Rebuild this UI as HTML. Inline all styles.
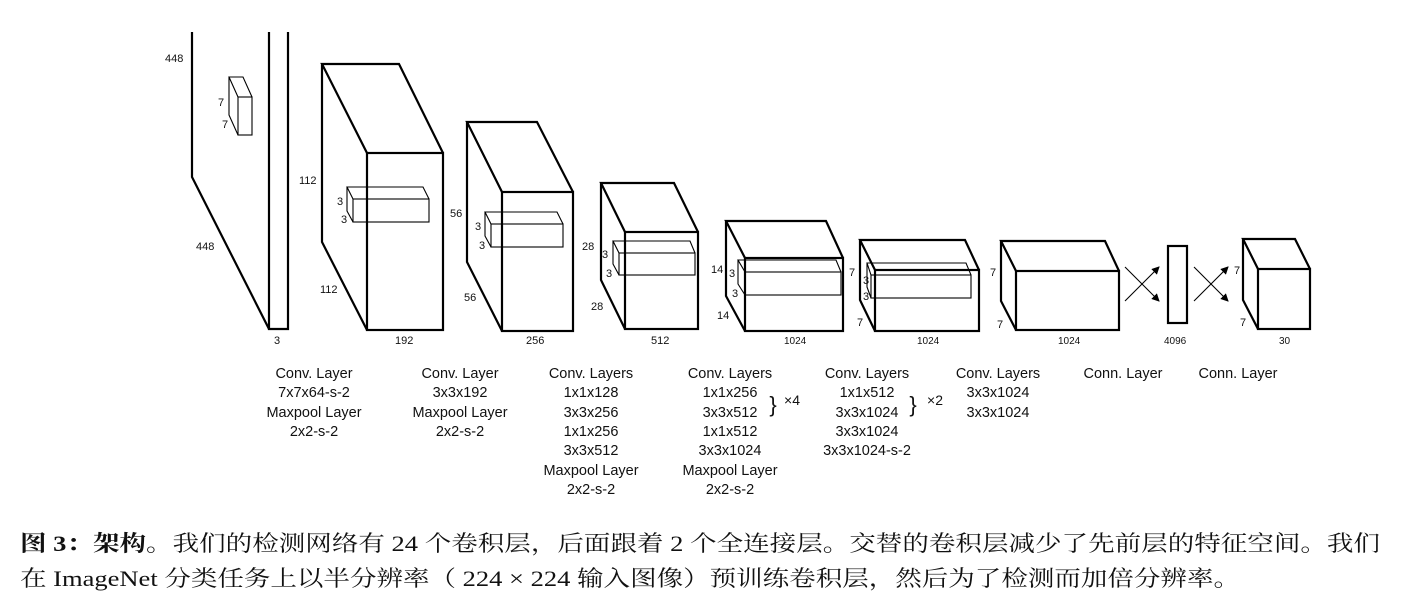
<!DOCTYPE html>
<html><head><meta charset="utf-8"><style>
html,body{margin:0;padding:0;background:#fff;}
svg{display:block;}
.t{font-family:"Liberation Sans",sans-serif;font-size:11px;fill:#111;}
.l{font-family:"Liberation Sans",sans-serif;font-size:14.5px;fill:#111;text-anchor:middle;}
.c{font-family:"Liberation Serif","Noto Serif CJK SC",serif;font-size:22px;fill:#111;}
</style></head><body>
<svg width="1420" height="612" viewBox="0 0 1420 612" xmlns="http://www.w3.org/2000/svg">
<defs><marker id="ah" markerWidth="8" markerHeight="8" refX="7" refY="4" orient="auto" markerUnits="userSpaceOnUse"><path d="M0,0 L8,4 L0,8 z" fill="#000"/></marker></defs>
<g fill="none" stroke="#000" stroke-width="2.2" stroke-linejoin="miter">
<path d="M192,32 L192,177 L269,329"/>
<path d="M269,32 L269,329 L288,329 L288,32"/>
<path d="M367,153 L322,64 L399,64 L443,153 M322,64 L322,242 L367,330"/>
<rect x="367" y="153" width="76" height="177"/>
<path d="M502,192 L467,122 L537,122 L573,192 M467,122 L467,262 L502,331"/>
<rect x="502" y="192" width="71" height="139"/>
<path d="M625,232 L601,183 L674,183 L698,232 M601,183 L601,280 L625,329"/>
<rect x="625" y="232" width="73" height="97"/>
<path d="M745,258 L726,221 L826,221 L843,258 M726,221 L726,296 L745,331"/>
<rect x="745" y="258" width="98" height="73"/>
<path d="M875,270 L860,240 L965,240 L979,270 M860,240 L860,300 L875,331"/>
<rect x="875" y="270" width="104" height="61"/>
<path d="M1016,271 L1001,241 L1105,241 L1119,271 M1001,241 L1001,301 L1016,330"/>
<rect x="1016" y="271" width="103" height="59"/>
<rect x="1168" y="246" width="19" height="77"/>
<path d="M1258,269 L1243,239 L1295,239 L1310,269 M1243,239 L1243,300 L1258,329"/>
<rect x="1258" y="269" width="52" height="60"/>
</g>
<g fill="none" stroke="#000" stroke-width="1.1">
<path d="M238,97 L229,77 L243,77 L252,97 M229,77 L229,115 L238,135"/>
<rect x="238" y="97" width="14" height="38"/>
<path d="M353,199 L347,187 L423,187 L429,199 M347,187 L347,211 L353,222"/>
<rect x="353" y="199" width="76" height="23"/>
<path d="M491,224 L485,212 L557,212 L563,224 M485,212 L485,236 L491,247"/>
<rect x="491" y="224" width="72" height="23"/>
<path d="M619,253 L613,241 L690,241 L695,253 M613,241 L613,264 L619,275"/>
<rect x="619" y="253" width="76" height="22"/>
<path d="M745,272 L738,260 L836,260 L841,272 M738,260 L738,284 L745,295"/>
<rect x="745" y="272" width="96" height="23"/>
<path d="M871,275 L867,263 L966,263 L971,275 M867,263 L867,287 L871,298"/>
<rect x="871" y="275" width="100" height="23"/>
<line x1="1125" y1="267" x2="1159" y2="301" marker-end="url(#ah)"/>
<line x1="1125" y1="301" x2="1159" y2="267" marker-end="url(#ah)"/>
<line x1="1194" y1="267" x2="1228" y2="301" marker-end="url(#ah)"/>
<line x1="1194" y1="301" x2="1228" y2="267" marker-end="url(#ah)"/>
</g>
<g class="t">
<text x="165" y="62">448</text><text x="218" y="106">7</text><text x="222" y="128">7</text>
<text x="196" y="250">448</text><text x="274" y="344">3</text>
<text x="299" y="184">112</text><text x="337" y="205">3</text><text x="341" y="223">3</text>
<text x="320" y="293">112</text><text x="395" y="344">192</text>
<text x="450" y="217">56</text><text x="475" y="230">3</text><text x="479" y="249">3</text>
<text x="464" y="301">56</text><text x="526" y="344">256</text>
<text x="582" y="250">28</text><text x="602" y="258">3</text><text x="606" y="277">3</text>
<text x="591" y="310">28</text><text x="651" y="344">512</text>
<text x="711" y="273">14</text><text x="729" y="277">3</text><text x="732" y="297">3</text>
<text x="717" y="319">14</text><text x="784" y="344" style="font-size:10px">1024</text>
<text x="849" y="276">7</text><text x="863" y="284">3</text><text x="863" y="300">3</text>
<text x="857" y="326">7</text><text x="917" y="344" style="font-size:10px">1024</text>
<text x="990" y="276">7</text><text x="997" y="328">7</text><text x="1058" y="344" style="font-size:10px">1024</text>
<text x="1164" y="344" style="font-size:10px">4096</text>
<text x="1234" y="274">7</text><text x="1240" y="326">7</text><text x="1279" y="344" style="font-size:10px">30</text>
</g>
<g class="l">
<text x="314" y="378">Conv. Layer</text><text x="314" y="397">7x7x64-s-2</text><text x="314" y="417">Maxpool Layer</text><text x="314" y="436">2x2-s-2</text>
<text x="460" y="378">Conv. Layer</text><text x="460" y="397">3x3x192</text><text x="460" y="417">Maxpool Layer</text><text x="460" y="436">2x2-s-2</text>
<text x="591" y="378">Conv. Layers</text><text x="591" y="397">1x1x128</text><text x="591" y="417">3x3x256</text><text x="591" y="436">1x1x256</text><text x="591" y="455">3x3x512</text><text x="591" y="475">Maxpool Layer</text><text x="591" y="494">2x2-s-2</text>
<text x="730" y="378">Conv. Layers</text><text x="730" y="397">1x1x256</text><text x="730" y="417">3x3x512</text><text x="730" y="436">1x1x512</text><text x="730" y="455">3x3x1024</text><text x="730" y="475">Maxpool Layer</text><text x="730" y="494">2x2-s-2</text>
<text x="867" y="378">Conv. Layers</text><text x="867" y="397">1x1x512</text><text x="867" y="417">3x3x1024</text><text x="867" y="436">3x3x1024</text><text x="867" y="455">3x3x1024-s-2</text>
<text x="998" y="378">Conv. Layers</text><text x="998" y="397">3x3x1024</text><text x="998" y="417">3x3x1024</text>
<text x="1123" y="378">Conn. Layer</text><text x="1238" y="378">Conn. Layer</text>
<text x="773" y="412" style="font-size:22px;font-weight:100">}</text><text x="792" y="405" style="font-size:14px">×4</text>
<text x="913" y="412" style="font-size:22px;font-weight:100">}</text><text x="935" y="405" style="font-size:14px">×2</text>
</g>
<text class="c" x="20" y="551" textLength="1360" lengthAdjust="spacingAndGlyphs"><tspan font-weight="bold">图 3：架构</tspan>。我们的检测网络有 24 个卷积层，后面跟着 2 个全连接层。交替的卷积层减少了先前层的特征空间。我们</text>
<text class="c" x="20" y="586" textLength="1220" lengthAdjust="spacingAndGlyphs">在 ImageNet 分类任务上以半分辨率（ 224 × 224 输入图像）预训练卷积层，然后为了检测而加倍分辨率。</text>
</svg>
</body></html>
